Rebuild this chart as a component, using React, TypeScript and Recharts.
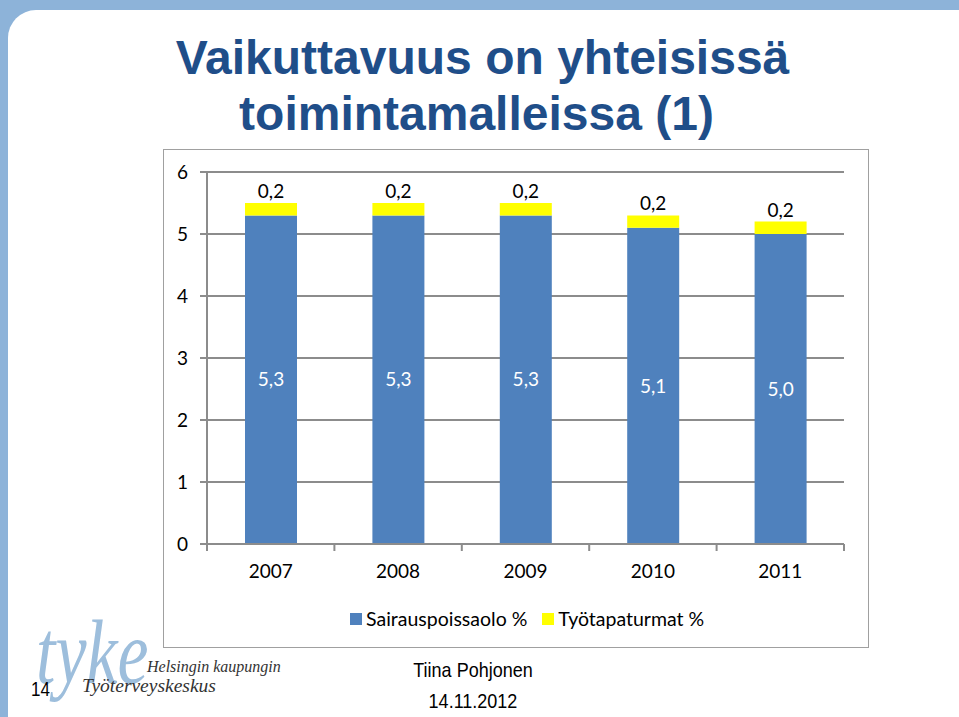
import { BarChart, Bar, XAxis, YAxis, CartesianGrid, Legend, LabelList } from 'recharts'

const years = ['2007', '2008', '2009', '2010', '2011']
const sairauspoissaolo = [5.3, 5.3, 5.3, 5.1, 5.0]
const tyotapaturmat = [0.2, 0.2, 0.2, 0.2, 0.2]
const yTicks = [0, 1, 2, 3, 4, 5, 6]

const data = years.map((year, i) => ({
  year,
  sairaus: sairauspoissaolo[i],
  tapaturma: tyotapaturmat[i],
}))

const CHART_W = 704
const CHART_H = 497
const MARGIN = { top: 22, right: 24, left: 0, bottom: 0 }
const Y_AXIS_W = 43
const BAND = (CHART_W - MARGIN.left - MARGIN.right - Y_AXIS_W) / years.length

const chartFont = 'Lato, "Open Sans", sans-serif'
const gridColor = '#8c8c8c'

const fmt = (v: any) => Number(v).toFixed(1).replace('.', ',')

function YearTick(props: any) {
  const { x, y, payload, index } = props
  const left = x - BAND / 2
  return (
    <g>
      <line x1={left} y1={y - 8} x2={left} y2={y - 1} stroke={gridColor} strokeWidth={2} />
      {index === years.length - 1 && (
        <line x1={x + BAND / 2} y1={y - 8} x2={x + BAND / 2} y2={y - 1} stroke={gridColor} strokeWidth={2} />
      )}
      <text x={x} y={y + 26} textAnchor="middle" fontSize={19} fontFamily={chartFont} fill="#000">
        {payload.value}
      </text>
    </g>
  )
}

function LegendContent() {
  const items = [
    { label: 'Sairauspoissaolo %', color: '#4f81bd' },
    { label: 'Työtapaturmat %', color: '#ffff00' },
  ]
  return (
    <div style={{ display: 'flex', alignItems: 'center', fontFamily: chartFont, fontSize: 19.5, color: '#000' }}>
      {items.map((it) => (
        <div key={it.label} style={{ display: 'flex', alignItems: 'center', marginRight: 15 }}>
          <span style={{ display: 'inline-block', width: 12, height: 12, background: it.color, marginRight: 4 }} />
          <span>{it.label}</span>
        </div>
      ))}
    </div>
  )
}

export default function App() {
  return (
    <div style={{ position: 'absolute', left: 0, top: 0, width: 959, height: 717, overflow: 'hidden', background: '#8db3d9' }}>
      <div
        style={{
          position: 'absolute',
          left: 8,
          top: 10,
          right: 0,
          bottom: 0,
          background: '#fff',
          borderTopLeftRadius: 28,
        }}
      />
      <div
        style={{
          position: 'absolute',
          left: 0,
          top: 30,
          width: 965,
          textAlign: 'center',
          fontFamily: '"Liberation Sans", Arial, sans-serif',
          fontWeight: 'bold',
          fontSize: 48,
          lineHeight: '56px',
          color: '#1f4e89',
        }}
      >
        <div>Vaikuttavuus on yhteisissä</div>
        <div style={{ marginLeft: -12 }}>toimintamalleissa (1)</div>
      </div>

      <div
        style={{
          position: 'absolute',
          left: 163,
          top: 149,
          width: CHART_W + 2,
          height: CHART_H + 2,
          border: '1px solid #a0a0a0',
          boxSizing: 'border-box',
          background: '#fff',
        }}
      >
        <BarChart width={CHART_W} height={CHART_H} data={data} margin={MARGIN} barSize={52}>
          <CartesianGrid vertical={false} stroke={gridColor} strokeWidth={2} />
          <XAxis
            dataKey="year"
            height={63}
            axisLine={{ stroke: gridColor, strokeWidth: 2 }}
            tickLine={false}
            tick={<YearTick />}
            interval={0}
          />
          <YAxis
            width={Y_AXIS_W}
            domain={[0, 6]}
            ticks={yTicks}
            interval={0}
            axisLine={{ stroke: gridColor, strokeWidth: 2 }}
            tickLine={{ stroke: gridColor, strokeWidth: 2 }}
            tickSize={7}
            tickMargin={12}
            tick={{ fill: '#000', fontSize: 19, fontFamily: chartFont }}
          />
          <Legend
            verticalAlign="bottom"
            content={<LegendContent />}
            wrapperStyle={{ left: 186, width: 430, height: 40 }}
          />
          <Bar dataKey="sairaus" name="Sairauspoissaolo %" stackId="a" fill="#4f81bd" isAnimationActive={false}>
            <LabelList dataKey="sairaus" position="center" formatter={fmt} fill="#fff" fontSize={19} fontFamily={chartFont} />
          </Bar>
          <Bar dataKey="tapaturma" name="Työtapaturmat %" stackId="a" fill="#ffff00" isAnimationActive={false}>
            <LabelList dataKey="tapaturma" position="top" formatter={fmt} fill="#000" fontSize={19} fontFamily={chartFont} />
          </Bar>
        </BarChart>
      </div>

      <div style={{ position: 'absolute', left: 36, top: 606, fontFamily: '"Liberation Serif", serif', fontStyle: 'italic', fontSize: 92, color: '#9dbedc', transform: 'scaleX(0.76)', transformOrigin: 'left top', lineHeight: '92px' }}>
        tyke
      </div>
      <div style={{ position: 'absolute', left: 147, top: 658, fontFamily: '"Liberation Serif", serif', fontStyle: 'italic', fontSize: 16, color: '#333' }}>
        Helsingin kaupungin
      </div>
      <div style={{ position: 'absolute', left: 82, top: 675, fontFamily: '"Liberation Serif", serif', fontStyle: 'italic', fontSize: 19.5, color: '#333' }}>
        Työterveyskeskus
      </div>
      <div style={{ position: 'absolute', left: 31, top: 680, fontFamily: '"Liberation Sans", Arial, sans-serif', fontSize: 17, color: '#000', transform: 'scaleY(1.15)' }}>
        14
      </div>
      <div style={{ position: 'absolute', left: 373, width: 200, top: 656, textAlign: 'center', fontFamily: '"Liberation Sans", Arial, sans-serif', fontSize: 18, lineHeight: '27px', color: '#000', transform: 'scaleY(1.12)', transformOrigin: 'center top' }}>
        <div>Tiina Pohjonen</div>
        <div>14.11.2012</div>
      </div>
    </div>
  )
}
